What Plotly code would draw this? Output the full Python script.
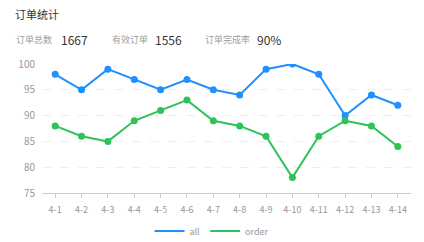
import plotly.graph_objects as go

categories = ["4-1", "4-2", "4-3", "4-4", "4-5", "4-6", "4-7", "4-8", "4-9", "4-10", "4-11", "4-12", "4-13", "4-14"]
all_values = [98, 95, 99, 97, 95, 97, 95, 94, 99, 100, 98, 90, 94, 92]
order_values = [88, 86, 85, 89, 91, 93, 89, 88, 86, 78, 86, 89, 88, 84]
y_ticks = [75, 80, 85, 90, 95, 100]
title_text = "订单统计"
stat_labels = ["订单总数", "有效订单", "订单完成率"]
stat_values = ["1667", "1556", "90%"]

BLUE = "#1E90FF"
GREEN = "#2FC25B"
FONT = "Noto Sans CJK SC"
W, H = 424, 242
ML, MR, MT, MB = 42, 13, 64, 49

def px(x):
    return (x - ML) / (W - ML - MR)

def py(y):
    return (H - MB - y) / (H - MT - MB)

fig = go.Figure()
fig.add_trace(go.Scatter(x=categories, y=all_values, mode="lines+markers", name="all",
                         line=dict(color=BLUE, width=2), marker=dict(size=7, color=BLUE),
                         showlegend=False))
fig.add_trace(go.Scatter(x=categories, y=order_values, mode="lines+markers", name="order",
                         line=dict(color=GREEN, width=2), marker=dict(size=7, color=GREEN),
                         showlegend=False))
fig.add_trace(go.Scatter(x=[None], y=[None], mode="lines", name="all", line=dict(color=BLUE, width=2)))
fig.add_trace(go.Scatter(x=[None], y=[None], mode="lines", name="order", line=dict(color=GREEN, width=2)))

stat_x = [14, 110, 203]
val_x = [59, 153, 255]
ann = [dict(text=title_text, xref="paper", yref="paper", x=px(13), y=py(14),
            xanchor="left", yanchor="middle", showarrow=False,
            font=dict(family=FONT, size=11, color="#333333"))]
for lab, val, lx, vx in zip(stat_labels, stat_values, stat_x, val_x):
    ann.append(dict(text=lab, xref="paper", yref="paper", x=px(lx), y=py(40),
                    xanchor="left", yanchor="middle", showarrow=False,
                    font=dict(family=FONT, size=9, color="#a0a0a0")))
    ann.append(dict(text=val, xref="paper", yref="paper", x=px(vx), y=py(39.5),
                    xanchor="left", yanchor="middle", showarrow=False,
                    font=dict(family=FONT, size=12, color="#333333")))

fig.update_layout(
    width=W, height=H,
    margin=dict(l=ML, r=MR, t=MT, b=MB, autoexpand=False),
    paper_bgcolor="white", plot_bgcolor="white",
    font=dict(family=FONT, size=10, color="#999999"),
    annotations=ann,
    legend=dict(orientation="h", x=0.5, xanchor="center", xref="container",
                y=11 / H, yanchor="middle", yref="container",
                font=dict(family=FONT, size=9, color="#999999"), itemwidth=30,
                bgcolor="rgba(0,0,0,0)"),
    xaxis=dict(type="category", range=[-0.5, 13.5], showgrid=False, showline=True,
               linecolor="#cccccc", linewidth=1, ticks="outside", ticklen=4, tickcolor="#cccccc",
               tickfont=dict(size=9, color="#999999"), zeroline=False, fixedrange=True,
               ticklabelstandoff=4),
    yaxis=dict(range=[75, 100], tickvals=y_ticks, showgrid=True, gridcolor="#eeeeee",
               griddash="dash", gridwidth=1, showline=False, zeroline=False, ticks="",
               tickfont=dict(size=10, color="#999999"), ticklabelstandoff=6),
)

fig.write_html("out.html")
